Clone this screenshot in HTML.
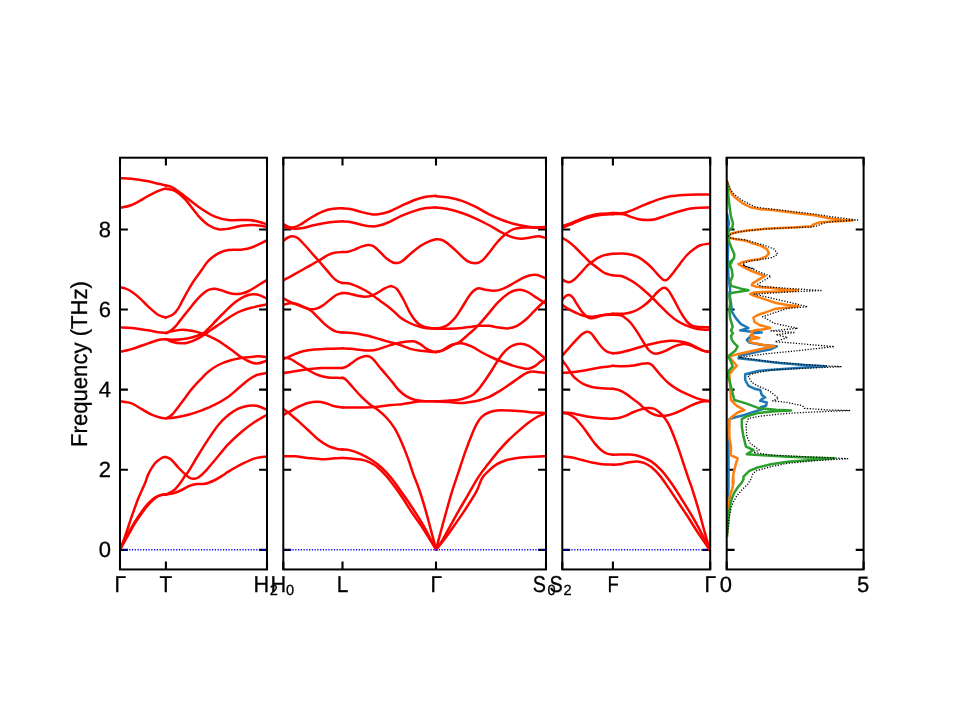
<!DOCTYPE html>
<html><head><meta charset="utf-8"><title>Phonon band structure</title>
<style>html,body{margin:0;padding:0;background:#fff;}svg{display:block;}text{font-family:"Liberation Sans",sans-serif;fill:#000;text-rendering:geometricPrecision;}.tx{filter:grayscale(1);}.tx text{stroke:#000;stroke-width:0.3px;}</style></head><body>
<svg width="960" height="720" viewBox="0 0 960 720">
<rect width="960" height="720" fill="#fff"/>
<defs>
<clipPath id="c1"><rect x="120.00" y="157.70" width="147.00" height="411.75"/></clipPath>
<clipPath id="c2"><rect x="283.30" y="157.70" width="262.70" height="411.75"/></clipPath>
<clipPath id="c3"><rect x="562.30" y="157.70" width="147.90" height="411.75"/></clipPath>
<clipPath id="c4"><rect x="726.70" y="157.70" width="136.90" height="411.75"/></clipPath>
</defs>
<path d="M120.00 549.85h7.90M267.00 549.85h-7.90M120.00 469.75h7.90M267.00 469.75h-7.90M120.00 389.65h7.90M267.00 389.65h-7.90M120.00 309.55h7.90M267.00 309.55h-7.90M120.00 229.45h7.90M267.00 229.45h-7.90M283.30 549.85h7.90M546.00 549.85h-7.90M283.30 469.75h7.90M546.00 469.75h-7.90M283.30 389.65h7.90M546.00 389.65h-7.90M283.30 309.55h7.90M546.00 309.55h-7.90M283.30 229.45h7.90M546.00 229.45h-7.90M562.30 549.85h7.90M710.20 549.85h-7.90M562.30 469.75h7.90M710.20 469.75h-7.90M562.30 389.65h7.90M710.20 389.65h-7.90M562.30 309.55h7.90M710.20 309.55h-7.90M562.30 229.45h7.90M710.20 229.45h-7.90M726.70 549.85h7.90M863.60 549.85h-7.90M726.70 469.75h7.90M863.60 469.75h-7.90M726.70 389.65h7.90M863.60 389.65h-7.90M726.70 309.55h7.90M863.60 309.55h-7.90M726.70 229.45h7.90M863.60 229.45h-7.90M120.00 157.70v7.90M120.00 569.45v-7.90M165.90 157.70v7.90M165.90 569.45v-7.90M267.00 157.70v7.90M267.00 569.45v-7.90M283.30 157.70v7.90M283.30 569.45v-7.90M342.50 157.70v7.90M342.50 569.45v-7.90M436.00 157.70v7.90M436.00 569.45v-7.90M546.00 157.70v7.90M546.00 569.45v-7.90M562.30 157.70v7.90M562.30 569.45v-7.90M612.90 157.70v7.90M612.90 569.45v-7.90M710.20 157.70v7.90M710.20 569.45v-7.90M726.70 157.70v7.90M726.70 569.45v-7.90M863.60 157.70v7.90M863.60 569.45v-7.90" stroke="#000" stroke-width="2.10" fill="none"/>
<g clip-path="url(#c1)" fill="none" stroke="#ff0000" stroke-width="2.50" stroke-linejoin="round" stroke-linecap="round"><path d="M119.33 178.33C121.39 178.39 126.83 178.17 131.67 178.67C136.50 179.17 143.89 180.47 148.33 181.33C152.78 182.19 155.39 183.14 158.33 183.83C161.28 184.53 164.72 185.22 166.00 185.50"/><path d="M119.33 208.00C121.39 207.50 126.83 207.03 131.67 205.00C136.50 202.97 144.17 198.06 148.33 195.83C152.50 193.61 154.31 192.75 156.67 191.67C159.03 190.58 160.94 189.83 162.50 189.33C164.06 188.83 165.42 188.78 166.00 188.67"/><path d="M119.33 287.50C120.28 287.64 122.94 287.64 125.00 288.33C127.06 289.03 129.17 290.00 131.67 291.67C134.17 293.33 137.22 295.83 140.00 298.33C142.78 300.83 145.28 303.89 148.33 306.67C151.39 309.44 155.39 313.19 158.33 315.00C161.28 316.81 164.72 317.08 166.00 317.50"/><path d="M119.33 327.50C121.39 327.58 126.83 327.53 131.67 328.00C136.50 328.47 143.89 329.64 148.33 330.33C152.78 331.03 155.39 331.72 158.33 332.17C161.28 332.61 164.72 332.86 166.00 333.00"/><path d="M119.33 352.00C121.39 351.53 126.83 350.61 131.67 349.17C136.50 347.72 143.89 344.86 148.33 343.33C152.78 341.81 155.39 340.69 158.33 340.00C161.28 339.31 164.72 339.31 166.00 339.17"/><path d="M119.33 401.17C121.39 401.53 127.94 402.00 131.67 403.33C135.39 404.67 138.33 407.28 141.67 409.17C145.00 411.06 148.61 413.28 151.67 414.67C154.72 416.06 157.61 416.89 160.00 417.50C162.39 418.11 165.00 418.19 166.00 418.33"/><path d="M120.00 549.67C120.83 547.50 123.06 542.17 125.00 536.67C126.94 531.17 129.44 523.06 131.67 516.67C133.89 510.28 136.11 503.89 138.33 498.33C140.56 492.78 143.33 487.36 145.00 483.33C146.67 479.31 146.67 477.50 148.33 474.17C150.00 470.83 152.78 466.03 155.00 463.33C157.22 460.64 159.83 459.06 161.67 458.00C163.50 456.94 165.28 457.17 166.00 457.00"/><path d="M120.00 549.67C121.39 546.94 125.83 538.00 128.33 533.33C130.83 528.67 132.78 525.28 135.00 521.67C137.22 518.06 139.44 514.72 141.67 511.67C143.89 508.61 146.11 505.69 148.33 503.33C150.56 500.97 152.92 498.89 155.00 497.50C157.08 496.11 159.00 495.50 160.83 495.00C162.67 494.50 165.14 494.58 166.00 494.50"/><path d="M120.00 549.67C121.53 546.94 126.50 538.00 129.17 533.33C131.83 528.67 133.72 525.28 136.00 521.67C138.28 518.06 140.61 514.67 142.83 511.67C145.06 508.67 147.19 505.97 149.33 503.67C151.47 501.36 153.69 499.25 155.67 497.83C157.64 496.42 159.44 495.72 161.17 495.17C162.89 494.61 165.19 494.61 166.00 494.50"/><path d="M166.00 185.50C166.94 185.75 169.06 185.64 171.67 187.00C174.28 188.36 177.22 190.39 181.67 193.67C186.11 196.94 192.78 202.83 198.33 206.67C203.89 210.50 210.00 214.44 215.00 216.67C220.00 218.89 222.78 219.44 228.33 220.00C233.89 220.56 243.33 219.72 248.33 220.00C253.33 220.28 255.14 220.92 258.33 221.67C261.53 222.42 265.97 224.03 267.50 224.50"/><path d="M166.00 188.67C167.50 189.03 171.83 189.08 175.00 190.83C178.17 192.58 181.11 195.00 185.00 199.17C188.89 203.33 194.44 211.53 198.33 215.83C202.22 220.14 205.00 222.78 208.33 225.00C211.67 227.22 215.00 228.56 218.33 229.17C221.67 229.78 224.44 229.22 228.33 228.67C232.22 228.11 237.50 226.44 241.67 225.83C245.83 225.22 249.03 224.83 253.33 225.00C257.64 225.17 265.14 226.53 267.50 226.83"/><path d="M166.00 317.50C167.22 316.94 171.28 315.69 173.33 314.17C175.39 312.64 176.39 311.39 178.33 308.33C180.28 305.28 182.50 300.28 185.00 295.83C187.50 291.39 190.56 285.97 193.33 281.67C196.11 277.36 199.17 273.47 201.67 270.00C204.17 266.53 205.56 263.61 208.33 260.83C211.11 258.06 215.00 255.14 218.33 253.33C221.67 251.53 224.44 250.61 228.33 250.00C232.22 249.39 237.78 250.08 241.67 249.67C245.56 249.25 247.36 249.11 251.67 247.50C255.97 245.89 264.86 241.25 267.50 240.00"/><path d="M166.00 333.00C166.67 332.71 168.50 332.27 170.00 331.25C171.50 330.23 173.33 328.67 175.00 326.90C176.67 325.12 178.33 322.68 180.00 320.60C181.67 318.52 183.33 316.48 185.00 314.40C186.67 312.32 188.33 310.18 190.00 308.10C191.67 306.02 193.33 303.85 195.00 301.90C196.67 299.95 198.33 298.07 200.00 296.40C201.67 294.73 203.33 293.07 205.00 291.90C206.67 290.73 208.33 289.92 210.00 289.40C211.67 288.88 213.05 288.63 215.00 288.80C216.95 288.97 219.48 289.75 221.70 290.40C223.92 291.05 226.08 292.10 228.30 292.70C230.52 293.30 232.77 293.87 235.00 294.00C237.23 294.13 239.48 293.96 241.70 293.50C243.92 293.04 245.80 292.46 248.30 291.25C250.80 290.04 253.50 288.19 256.70 286.25C259.90 284.31 265.70 280.71 267.50 279.60"/><path d="M166.00 333.00C166.94 332.72 169.06 331.89 171.67 331.33C174.28 330.78 178.33 329.75 181.67 329.67C185.00 329.58 188.33 330.22 191.67 330.83C195.00 331.44 198.89 332.50 201.67 333.33C204.44 334.17 205.56 334.58 208.33 335.83C211.11 337.08 214.44 338.47 218.33 340.83C222.22 343.19 227.78 347.22 231.67 350.00C235.56 352.78 238.33 355.42 241.67 357.50C245.00 359.58 248.89 361.53 251.67 362.50C254.44 363.47 255.69 363.69 258.33 363.33C260.97 362.97 265.97 360.83 267.50 360.33"/><path d="M166.00 339.17C166.94 339.25 169.06 339.67 171.67 339.67C174.28 339.67 178.33 339.53 181.67 339.17C185.00 338.81 188.33 338.33 191.67 337.50C195.00 336.67 199.03 335.50 201.67 334.17C204.31 332.83 204.99 331.86 207.50 329.50C210.01 327.14 213.78 322.97 216.70 320.00C219.62 317.03 222.23 314.41 225.00 311.70C227.77 308.99 230.52 306.05 233.30 303.75C236.08 301.45 239.20 299.36 241.70 297.90C244.20 296.44 246.22 295.60 248.30 295.00C250.38 294.40 252.25 294.23 254.20 294.30C256.15 294.37 257.78 294.62 260.00 295.40C262.22 296.18 266.25 298.40 267.50 299.00"/><path d="M166.00 339.17C166.94 339.58 169.06 340.97 171.67 341.67C174.28 342.36 178.89 343.19 181.67 343.33C184.44 343.47 185.56 343.33 188.33 342.50C191.11 341.67 195.56 339.72 198.33 338.33C201.11 336.94 202.92 335.56 205.00 334.17C207.08 332.78 208.17 331.81 210.80 330.00C213.43 328.19 217.73 325.38 220.80 323.30C223.87 321.22 226.42 319.30 229.20 317.50C231.98 315.70 234.73 313.88 237.50 312.50C240.27 311.12 243.02 310.10 245.80 309.20C248.58 308.30 251.83 307.67 254.20 307.10C256.57 306.53 257.78 306.25 260.00 305.80C262.22 305.35 266.25 304.63 267.50 304.40"/><path d="M166.00 418.33C166.94 417.78 169.06 417.64 171.67 415.00C174.28 412.36 178.33 406.81 181.67 402.50C185.00 398.19 188.33 393.19 191.67 389.17C195.00 385.14 198.89 381.25 201.67 378.33C204.44 375.42 205.56 373.89 208.33 371.67C211.11 369.44 214.44 366.94 218.33 365.00C222.22 363.06 227.22 361.25 231.67 360.00C236.11 358.75 240.56 358.11 245.00 357.50C249.44 356.89 254.58 356.39 258.33 356.33C262.08 356.28 265.97 357.03 267.50 357.17"/><path d="M166.00 418.33C167.50 418.19 171.28 418.11 175.00 417.50C178.72 416.89 183.89 415.86 188.33 414.67C192.78 413.47 197.22 412.00 201.67 410.33C206.11 408.67 210.56 406.94 215.00 404.67C219.44 402.39 224.44 399.39 228.33 396.67C232.22 393.94 235.00 391.11 238.33 388.33C241.67 385.56 245.28 382.22 248.33 380.00C251.39 377.78 253.47 376.19 256.67 375.00C259.86 373.81 265.69 373.19 267.50 372.83"/><path d="M166.00 457.00C166.94 457.50 169.61 458.25 171.67 460.00C173.72 461.75 176.11 465.14 178.33 467.50C180.56 469.86 183.06 472.42 185.00 474.17C186.94 475.92 188.47 477.22 190.00 478.00C191.53 478.78 192.78 478.92 194.17 478.83C195.56 478.75 196.53 478.69 198.33 477.50C200.14 476.31 202.22 474.58 205.00 471.67C207.78 468.75 211.11 464.58 215.00 460.00C218.89 455.42 223.89 448.89 228.33 444.17C232.78 439.44 237.22 435.42 241.67 431.67C246.11 427.92 250.69 424.53 255.00 421.67C259.31 418.81 265.42 415.69 267.50 414.50"/><path d="M166.00 494.50C167.22 493.89 171.00 492.69 173.33 490.83C175.67 488.97 178.06 485.83 180.00 483.33C181.94 480.83 183.61 477.78 185.00 475.83C186.39 473.89 186.11 475.14 188.33 471.67C190.56 468.19 195.00 460.42 198.33 455.00C201.67 449.58 205.00 444.17 208.33 439.17C211.67 434.17 215.00 429.03 218.33 425.00C221.67 420.97 225.00 417.72 228.33 415.00C231.67 412.28 235.00 410.19 238.33 408.67C241.67 407.14 245.28 406.31 248.33 405.83C251.39 405.36 253.47 405.14 256.67 405.83C259.86 406.53 265.69 409.31 267.50 410.00"/><path d="M166.00 494.50C167.22 494.31 170.72 494.08 173.33 493.33C175.94 492.58 179.17 491.17 181.67 490.00C184.17 488.83 186.11 487.31 188.33 486.33C190.56 485.36 192.22 484.58 195.00 484.17C197.78 483.75 201.67 484.53 205.00 483.83C208.33 483.14 211.94 481.47 215.00 480.00C218.06 478.53 221.11 476.39 223.33 475.00C225.56 473.61 225.28 473.47 228.33 471.67C231.39 469.86 237.22 466.39 241.67 464.17C246.11 461.94 250.69 459.61 255.00 458.33C259.31 457.06 265.42 456.81 267.50 456.50"/></g>
<g clip-path="url(#c2)" fill="none" stroke="#ff0000" stroke-width="2.50" stroke-linejoin="round" stroke-linecap="round"><path d="M282.67 223.67C283.56 224.17 286.28 226.03 288.00 226.67C289.72 227.31 291.06 227.78 293.00 227.50C294.94 227.22 296.61 226.67 299.67 225.00C302.72 223.33 307.44 219.78 311.33 217.50C315.22 215.22 319.39 212.81 323.00 211.33C326.61 209.86 329.75 209.17 333.00 208.67C336.25 208.17 340.92 208.39 342.50 208.33"/><path d="M282.67 226.33C283.56 226.61 286.00 227.61 288.00 228.00C290.00 228.39 292.17 228.67 294.67 228.67C297.17 228.67 299.67 228.61 303.00 228.00C306.33 227.39 310.50 225.92 314.67 225.00C318.83 224.08 323.36 223.11 328.00 222.50C332.64 221.89 340.08 221.53 342.50 221.33"/><path d="M282.67 241.33C283.56 240.69 286.28 238.33 288.00 237.50C289.72 236.67 291.33 236.19 293.00 236.33C294.67 236.47 296.06 236.89 298.00 238.33C299.94 239.78 302.44 242.64 304.67 245.00C306.89 247.36 309.11 250.00 311.33 252.50C313.56 255.00 315.22 256.81 318.00 260.00C320.78 263.19 325.22 268.47 328.00 271.67C330.78 274.86 332.72 277.42 334.67 279.17C336.61 280.92 338.36 281.53 339.67 282.17C340.97 282.81 342.03 282.86 342.50 283.00"/><path d="M282.67 280.67C284.67 279.58 290.44 276.50 294.67 274.17C298.89 271.83 303.97 268.94 308.00 266.67C312.03 264.39 315.50 262.44 318.83 260.50C322.17 258.56 325.36 256.28 328.00 255.00C330.64 253.72 332.25 253.33 334.67 252.83C337.08 252.33 341.19 252.14 342.50 252.00"/><path d="M282.67 298.00C284.11 298.75 288.50 301.19 291.33 302.50C294.17 303.81 296.61 304.64 299.67 305.83C302.72 307.03 306.89 308.00 309.67 309.67C312.44 311.33 313.83 313.42 316.33 315.83C318.83 318.25 322.17 321.94 324.67 324.17C327.17 326.39 329.39 327.92 331.33 329.17C333.28 330.42 334.47 331.11 336.33 331.67C338.19 332.22 341.47 332.36 342.50 332.50"/><path d="M282.67 305.00C283.83 304.72 287.39 303.56 289.67 303.33C291.94 303.11 294.11 303.11 296.33 303.67C298.56 304.22 300.78 305.75 303.00 306.67C305.22 307.58 307.44 308.83 309.67 309.17C311.89 309.50 314.11 309.31 316.33 308.67C318.56 308.03 320.78 306.78 323.00 305.33C325.22 303.89 327.44 301.72 329.67 300.00C331.89 298.28 334.19 296.17 336.33 295.00C338.47 293.83 341.47 293.33 342.50 293.00"/><path d="M282.67 359.17C283.56 358.83 286.00 358.00 288.00 357.17C290.00 356.33 292.17 355.14 294.67 354.17C297.17 353.19 299.67 352.11 303.00 351.33C306.33 350.56 310.50 349.94 314.67 349.50C318.83 349.06 323.36 348.86 328.00 348.67C332.64 348.47 340.08 348.39 342.50 348.33"/><path d="M282.67 357.67C283.83 357.83 287.39 357.86 289.67 358.67C291.94 359.47 294.11 361.17 296.33 362.50C298.56 363.83 300.78 365.28 303.00 366.67C305.22 368.06 307.17 369.44 309.67 370.83C312.17 372.22 314.94 373.89 318.00 375.00C321.06 376.11 324.94 377.03 328.00 377.50C331.06 377.97 333.92 377.75 336.33 377.83C338.75 377.92 341.47 377.97 342.50 378.00"/><path d="M282.67 373.17C284.67 372.86 290.44 372.00 294.67 371.33C298.89 370.67 303.56 369.72 308.00 369.17C312.44 368.61 316.89 368.19 321.33 368.00C325.78 367.81 331.14 368.00 334.67 368.00C338.19 368.00 341.19 368.00 342.50 368.00"/><path d="M282.67 415.00C283.83 414.44 287.11 413.00 289.67 411.67C292.22 410.33 294.94 408.44 298.00 407.00C301.06 405.56 304.67 403.89 308.00 403.00C311.33 402.11 314.94 401.61 318.00 401.67C321.06 401.72 323.56 402.56 326.33 403.33C329.11 404.11 331.97 405.64 334.67 406.33C337.36 407.03 341.19 407.31 342.50 407.50"/><path d="M282.67 408.67C283.83 409.50 287.11 411.64 289.67 413.67C292.22 415.69 294.94 418.11 298.00 420.83C301.06 423.56 304.67 426.94 308.00 430.00C311.33 433.06 314.67 436.53 318.00 439.17C321.33 441.81 324.94 444.25 328.00 445.83C331.06 447.42 333.92 448.06 336.33 448.67C338.75 449.28 341.47 449.36 342.50 449.50"/><path d="M282.67 456.33C284.67 456.33 290.44 456.06 294.67 456.33C298.89 456.61 303.56 457.53 308.00 458.00C312.44 458.47 316.89 459.11 321.33 459.17C325.78 459.22 331.14 458.53 334.67 458.33C338.19 458.14 341.19 458.06 342.50 458.00"/><path d="M342.50 208.33C343.97 208.47 348.19 208.56 351.33 209.17C354.47 209.78 358.00 211.17 361.33 212.00C364.67 212.83 368.56 213.81 371.33 214.17C374.11 214.53 375.22 214.53 378.00 214.17C380.78 213.81 384.11 213.39 388.00 212.00C391.89 210.61 396.89 207.83 401.33 205.83C405.78 203.83 410.78 201.47 414.67 200.00C418.56 198.53 421.11 197.69 424.67 197.00C428.22 196.31 434.11 196.03 436.00 195.83"/><path d="M342.50 221.33C343.97 221.47 348.19 221.61 351.33 222.17C354.47 222.72 358.00 223.97 361.33 224.67C364.67 225.36 368.56 226.14 371.33 226.33C374.11 226.53 375.22 226.47 378.00 225.83C380.78 225.19 384.11 224.17 388.00 222.50C391.89 220.83 396.89 217.78 401.33 215.83C405.78 213.89 410.78 212.08 414.67 210.83C418.56 209.58 421.11 208.89 424.67 208.33C428.22 207.78 434.11 207.64 436.00 207.50"/><path d="M342.50 283.00C343.42 283.06 345.97 282.94 348.00 283.33C350.03 283.72 352.44 284.50 354.67 285.33C356.89 286.17 359.11 287.22 361.33 288.33C363.56 289.44 365.78 290.61 368.00 292.00C370.22 293.39 372.44 295.06 374.67 296.67C376.89 298.28 378.56 299.58 381.33 301.67C384.11 303.75 388.17 306.53 391.33 309.17C394.50 311.81 397.44 315.28 400.33 317.50C403.22 319.72 405.89 321.11 408.67 322.50C411.44 323.89 414.22 324.92 417.00 325.83C419.78 326.75 422.17 327.53 425.33 328.00C428.50 328.47 434.22 328.56 436.00 328.67"/><path d="M342.50 252.00C343.42 251.94 345.97 252.06 348.00 251.67C350.03 251.28 352.44 250.50 354.67 249.67C356.89 248.83 359.11 247.44 361.33 246.67C363.56 245.89 365.92 245.06 368.00 245.00C370.08 244.94 371.89 245.22 373.83 246.33C375.78 247.44 377.58 249.67 379.67 251.67C381.75 253.67 384.11 256.53 386.33 258.33C388.56 260.14 391.22 261.72 393.00 262.50C394.78 263.28 395.50 263.19 397.00 263.00C398.50 262.81 399.50 263.08 402.00 261.33C404.50 259.58 408.67 255.22 412.00 252.50C415.33 249.78 418.94 246.94 422.00 245.00C425.06 243.06 428.00 241.81 430.33 240.83C432.67 239.86 435.06 239.44 436.00 239.17"/><path d="M342.50 332.50C343.69 332.53 347.08 332.47 349.67 332.67C352.25 332.86 354.94 333.14 358.00 333.67C361.06 334.19 364.67 335.00 368.00 335.83C371.33 336.67 374.67 337.69 378.00 338.67C381.33 339.64 385.67 341.00 388.00 341.67C390.33 342.33 389.94 342.08 392.00 342.67C394.06 343.25 397.28 344.14 400.33 345.17C403.39 346.19 407.00 347.89 410.33 348.83C413.67 349.78 417.00 350.36 420.33 350.83C423.67 351.31 427.72 351.47 430.33 351.67C432.94 351.86 435.06 351.94 436.00 352.00"/><path d="M342.50 293.00C343.69 293.11 347.08 293.19 349.67 293.67C352.25 294.14 355.50 295.33 358.00 295.83C360.50 296.33 362.44 296.67 364.67 296.67C366.89 296.67 369.11 296.53 371.33 295.83C373.56 295.14 375.78 293.75 378.00 292.50C380.22 291.25 382.72 289.36 384.67 288.33C386.61 287.31 388.44 286.67 389.67 286.33C390.89 286.00 390.78 285.86 392.00 286.33C393.22 286.81 395.06 286.89 397.00 289.17C398.94 291.44 401.44 295.97 403.67 300.00C405.89 304.03 408.11 309.58 410.33 313.33C412.56 317.08 414.78 320.28 417.00 322.50C419.22 324.72 421.44 325.75 423.67 326.67C425.89 327.58 428.28 327.72 430.33 328.00C432.39 328.28 435.06 328.28 436.00 328.33"/><path d="M342.50 348.33C343.97 348.42 348.19 348.56 351.33 348.83C354.47 349.11 358.28 349.72 361.33 350.00C364.39 350.28 366.89 350.64 369.67 350.50C372.44 350.36 374.94 349.94 378.00 349.17C381.06 348.39 385.67 346.58 388.00 345.83C390.33 345.08 390.22 345.14 392.00 344.67C393.78 344.19 396.17 343.53 398.67 343.00C401.17 342.47 404.50 341.78 407.00 341.50C409.50 341.22 411.44 340.89 413.67 341.33C415.89 341.78 418.11 342.86 420.33 344.17C422.56 345.47 424.78 347.92 427.00 349.17C429.22 350.42 432.17 351.19 433.67 351.67C435.17 352.14 435.61 351.94 436.00 352.00"/><path d="M342.50 377.67C343.14 378.06 344.58 378.36 346.33 380.00C348.08 381.64 350.50 384.72 353.00 387.50C355.50 390.28 358.56 393.89 361.33 396.67C364.11 399.44 366.89 401.94 369.67 404.17C372.44 406.39 375.22 407.78 378.00 410.00C380.78 412.22 383.56 414.44 386.33 417.50C389.11 420.56 392.17 424.31 394.67 428.33C397.17 432.36 399.11 436.67 401.33 441.67C403.56 446.67 406.06 453.06 408.00 458.33C409.94 463.61 411.11 468.06 413.00 473.33C414.89 478.61 417.17 483.61 419.33 490.00C421.50 496.39 424.00 504.72 426.00 511.67C428.00 518.61 429.64 525.33 431.33 531.67C433.03 538.00 435.36 546.67 436.17 549.67"/><path d="M342.50 368.00C343.14 367.78 344.86 367.44 346.33 366.67C347.81 365.89 349.39 364.67 351.33 363.33C353.28 362.00 355.78 359.86 358.00 358.67C360.22 357.47 362.72 356.50 364.67 356.17C366.61 355.83 368.00 355.89 369.67 356.67C371.33 357.44 372.72 358.75 374.67 360.83C376.61 362.92 378.44 365.69 381.33 369.17C384.22 372.64 389.11 378.19 392.00 381.67C394.89 385.14 396.17 387.50 398.67 390.00C401.17 392.50 404.22 395.00 407.00 396.67C409.78 398.33 412.28 399.25 415.33 400.00C418.39 400.75 421.89 400.94 425.33 401.17C428.78 401.39 434.22 401.31 436.00 401.33"/><path d="M342.50 407.50C343.97 407.50 347.64 407.50 351.33 407.50C355.03 407.50 360.22 407.64 364.67 407.50C369.11 407.36 373.56 407.08 378.00 406.67C382.44 406.25 387.33 405.42 391.33 405.00C395.33 404.58 398.28 404.64 402.00 404.17C405.72 403.69 409.78 402.64 413.67 402.17C417.56 401.69 421.61 401.47 425.33 401.33C429.06 401.19 434.22 401.33 436.00 401.33"/><path d="M342.50 449.50C343.82 449.65 347.35 449.63 350.40 450.40C353.45 451.17 357.32 452.53 360.80 454.10C364.28 455.67 367.77 457.55 371.25 459.80C374.73 462.05 378.22 464.40 381.70 467.60C385.18 470.80 388.63 474.68 392.10 479.00C395.57 483.32 399.27 488.92 402.50 493.50C405.73 498.08 407.97 501.08 411.50 506.50C415.03 511.92 419.58 518.78 423.70 526.00C427.82 533.22 434.12 545.83 436.20 549.80"/><path d="M342.50 458.00C343.82 458.08 347.35 458.23 350.40 458.50C353.45 458.77 357.67 458.98 360.80 459.60C363.93 460.22 366.42 460.93 369.20 462.20C371.98 463.47 374.73 464.98 377.50 467.20C380.27 469.42 383.02 472.37 385.80 475.50C388.58 478.63 391.42 482.28 394.20 486.00C396.98 489.72 399.55 493.38 402.50 497.80C405.45 502.22 408.75 507.80 411.90 512.50C415.05 517.20 417.35 519.78 421.40 526.00C425.45 532.22 433.73 545.83 436.20 549.80"/><path d="M436.00 196.33C438.11 196.53 444.33 196.75 448.67 197.50C453.00 198.25 457.56 199.31 462.00 200.83C466.44 202.36 470.89 204.44 475.33 206.67C479.78 208.89 484.22 211.94 488.67 214.17C493.11 216.39 497.56 218.33 502.00 220.00C506.44 221.67 510.89 223.06 515.33 224.17C519.78 225.28 524.78 226.08 528.67 226.67C532.56 227.25 535.61 227.53 538.67 227.67C541.72 227.81 545.61 227.53 547.00 227.50"/><path d="M436.00 207.50C438.11 207.78 444.33 208.25 448.67 209.17C453.00 210.08 457.56 211.47 462.00 213.00C466.44 214.53 470.89 216.33 475.33 218.33C479.78 220.33 484.78 222.92 488.67 225.00C492.56 227.08 495.33 229.03 498.67 230.83C502.00 232.64 505.89 234.64 508.67 235.83C511.44 237.03 513.11 237.53 515.33 238.00C517.56 238.47 519.50 238.75 522.00 238.67C524.50 238.58 527.56 237.89 530.33 237.50C533.11 237.11 535.89 236.19 538.67 236.33C541.44 236.47 545.61 238.00 547.00 238.33"/><path d="M436.00 239.17C437.00 239.31 439.89 239.17 442.00 240.00C444.11 240.83 445.89 241.94 448.67 244.17C451.44 246.39 455.61 250.56 458.67 253.33C461.72 256.11 464.22 259.17 467.00 260.83C469.78 262.50 472.83 263.33 475.33 263.33C477.83 263.33 479.78 262.50 482.00 260.83C484.22 259.17 486.17 256.39 488.67 253.33C491.17 250.28 494.22 245.69 497.00 242.50C499.78 239.31 502.56 236.39 505.33 234.17C508.11 231.94 510.61 230.28 513.67 229.17C516.72 228.06 520.06 227.78 523.67 227.50C527.28 227.22 531.44 227.58 535.33 227.50C539.22 227.42 545.06 227.08 547.00 227.00"/><path d="M436.00 328.33C437.00 328.19 439.89 328.19 442.00 327.50C444.11 326.81 446.44 325.83 448.67 324.17C450.89 322.50 453.11 320.28 455.33 317.50C457.56 314.72 459.78 310.97 462.00 307.50C464.22 304.03 466.72 299.44 468.67 296.67C470.61 293.89 472.00 292.22 473.67 290.83C475.33 289.44 476.72 288.53 478.67 288.33C480.61 288.14 482.83 289.25 485.33 289.67C487.83 290.08 490.89 290.92 493.67 290.83C496.44 290.75 498.94 290.28 502.00 289.17C505.06 288.06 508.67 285.97 512.00 284.17C515.33 282.36 518.94 279.81 522.00 278.33C525.06 276.86 527.83 275.89 530.33 275.33C532.83 274.78 534.22 274.42 537.00 275.00C539.78 275.58 545.33 278.19 547.00 278.83"/><path d="M436.00 328.67C438.11 328.67 444.33 328.78 448.67 328.67C453.00 328.56 458.11 328.33 462.00 328.00C465.89 327.67 469.22 327.03 472.00 326.67C474.78 326.31 475.89 325.97 478.67 325.83C481.44 325.69 485.33 325.56 488.67 325.83C492.00 326.11 495.33 327.08 498.67 327.50C502.00 327.92 505.61 328.61 508.67 328.33C511.72 328.06 514.22 327.22 517.00 325.83C519.78 324.44 522.56 322.36 525.33 320.00C528.11 317.64 531.17 314.17 533.67 311.67C536.17 309.17 538.11 307.08 540.33 305.00C542.56 302.92 545.89 300.14 547.00 299.17"/><path d="M436.00 352.00C437.00 351.72 439.61 351.44 442.00 350.33C444.39 349.22 447.56 346.64 450.33 345.33C453.11 344.03 455.61 344.36 458.67 342.50C461.72 340.64 465.33 337.08 468.67 334.17C472.00 331.25 475.33 328.47 478.67 325.00C482.00 321.53 485.33 317.22 488.67 313.33C492.00 309.44 495.33 305.00 498.67 301.67C502.00 298.33 505.89 295.22 508.67 293.33C511.44 291.44 513.11 290.89 515.33 290.33C517.56 289.78 519.78 289.64 522.00 290.00C524.22 290.36 526.17 291.17 528.67 292.50C531.17 293.83 533.94 296.03 537.00 298.00C540.06 299.97 545.33 303.28 547.00 304.33"/><path d="M436.00 352.00C437.00 351.81 439.89 351.58 442.00 350.83C444.11 350.08 446.44 348.67 448.67 347.50C450.89 346.33 453.11 344.53 455.33 343.83C457.56 343.14 459.22 342.86 462.00 343.33C464.78 343.81 468.67 345.14 472.00 346.67C475.33 348.19 478.67 350.69 482.00 352.50C485.33 354.31 488.67 355.97 492.00 357.50C495.33 359.03 498.67 360.36 502.00 361.67C505.33 362.97 508.67 364.28 512.00 365.33C515.33 366.39 519.22 367.44 522.00 368.00C524.78 368.56 526.44 369.03 528.67 368.67C530.89 368.31 533.39 367.00 535.33 365.83C537.28 364.67 538.39 363.08 540.33 361.67C542.28 360.25 545.89 358.06 547.00 357.33"/><path d="M436.00 401.33C437.83 401.25 443.22 401.11 447.00 400.83C450.78 400.56 455.33 400.22 458.67 399.67C462.00 399.11 464.50 398.42 467.00 397.50C469.50 396.58 471.72 395.56 473.67 394.17C475.61 392.78 476.72 391.53 478.67 389.17C480.61 386.81 483.11 383.19 485.33 380.00C487.56 376.81 489.78 373.47 492.00 370.00C494.22 366.53 496.44 362.36 498.67 359.17C500.89 355.97 503.11 353.06 505.33 350.83C507.56 348.61 509.50 347.00 512.00 345.83C514.50 344.67 517.56 343.83 520.33 343.83C523.11 343.83 525.89 344.53 528.67 345.83C531.44 347.14 533.94 349.31 537.00 351.67C540.06 354.03 545.33 358.61 547.00 360.00"/><path d="M436.00 401.33C438.11 401.44 444.89 401.72 448.67 402.00C452.44 402.28 455.61 402.92 458.67 403.00C461.72 403.08 463.67 402.92 467.00 402.50C470.33 402.08 475.06 401.39 478.67 400.50C482.28 399.61 485.33 398.64 488.67 397.17C492.00 395.69 495.33 393.69 498.67 391.67C502.00 389.64 505.33 387.28 508.67 385.00C512.00 382.72 515.89 379.89 518.67 378.00C521.44 376.11 523.39 374.72 525.33 373.67C527.28 372.61 528.39 371.94 530.33 371.67C532.28 371.39 534.22 371.75 537.00 372.00C539.78 372.25 545.33 372.97 547.00 373.17"/><path d="M436.00 549.67C436.72 546.94 438.78 539.11 440.33 533.33C441.89 527.56 443.39 521.94 445.33 515.00C447.28 508.06 449.78 498.89 452.00 491.67C454.22 484.44 456.44 478.33 458.67 471.67C460.89 465.00 463.11 457.92 465.33 451.67C467.56 445.42 470.06 438.89 472.00 434.17C473.94 429.44 475.33 426.25 477.00 423.33C478.67 420.42 480.06 418.47 482.00 416.67C483.94 414.86 486.17 413.53 488.67 412.50C491.17 411.47 493.67 410.83 497.00 410.50C500.33 410.17 504.50 410.36 508.67 410.50C512.83 410.64 517.56 411.00 522.00 411.33C526.44 411.67 531.17 412.22 535.33 412.50C539.50 412.78 545.06 412.92 547.00 413.00"/><path d="M436.00 549.67C437.00 548.19 439.61 544.81 442.00 540.83C444.39 536.86 447.56 530.83 450.33 525.83C453.11 520.83 455.89 515.69 458.67 510.83C461.44 505.97 463.67 502.36 467.00 496.67C470.33 490.97 475.06 482.22 478.67 476.67C482.28 471.11 485.33 467.64 488.67 463.33C492.00 459.03 495.33 454.72 498.67 450.83C502.00 446.94 505.33 443.33 508.67 440.00C512.00 436.67 515.33 433.75 518.67 430.83C522.00 427.92 525.61 424.81 528.67 422.50C531.72 420.19 533.94 418.67 537.00 417.00C540.06 415.33 545.33 413.25 547.00 412.50"/><path d="M436.00 549.67C437.28 548.11 441.00 543.81 443.67 540.33C446.33 536.86 448.58 533.69 452.00 528.83C455.42 523.97 460.11 517.36 464.17 511.17C468.22 504.97 473.36 497.14 476.33 491.67C479.31 486.19 479.94 481.81 482.00 478.33C484.06 474.86 486.17 473.19 488.67 470.83C491.17 468.47 494.22 465.89 497.00 464.17C499.78 462.44 502.28 461.47 505.33 460.50C508.39 459.53 511.44 458.92 515.33 458.33C519.22 457.75 523.39 457.36 528.67 457.00C533.94 456.64 543.94 456.31 547.00 456.17"/></g>
<g clip-path="url(#c3)" fill="none" stroke="#ff0000" stroke-width="2.50" stroke-linejoin="round" stroke-linecap="round"><path d="M561.67 226.33C563.11 225.83 567.22 224.53 570.33 223.33C573.44 222.14 577.00 220.42 580.33 219.17C583.67 217.92 587.00 216.72 590.33 215.83C593.67 214.94 596.58 214.31 600.33 213.83C604.08 213.36 610.75 213.14 612.83 213.00"/><path d="M561.67 228.00C563.11 227.42 567.22 225.78 570.33 224.50C573.44 223.22 577.00 221.58 580.33 220.33C583.67 219.08 587.00 217.89 590.33 217.00C593.67 216.11 596.58 215.47 600.33 215.00C604.08 214.53 610.75 214.31 612.83 214.17"/><path d="M561.67 237.67C562.83 238.33 566.39 240.03 568.67 241.67C570.94 243.31 572.83 245.14 575.33 247.50C577.83 249.86 581.17 253.33 583.67 255.83C586.17 258.33 588.11 260.56 590.33 262.50C592.56 264.44 594.78 265.83 597.00 267.50C599.22 269.17 601.72 271.36 603.67 272.50C605.61 273.64 607.14 273.86 608.67 274.33C610.19 274.81 612.14 275.17 612.83 275.33"/><path d="M561.67 279.00C562.42 279.44 564.86 281.14 566.17 281.67C567.47 282.19 568.25 282.44 569.50 282.17C570.75 281.89 571.86 281.47 573.67 280.00C575.47 278.53 578.11 275.69 580.33 273.33C582.56 270.97 585.33 267.50 587.00 265.83C588.67 264.17 588.67 264.58 590.33 263.33C592.00 262.08 594.78 259.67 597.00 258.33C599.22 257.00 601.03 256.08 603.67 255.33C606.31 254.58 611.31 254.08 612.83 253.83"/><path d="M561.67 300.50C562.42 299.72 564.86 296.75 566.17 295.83C567.47 294.92 568.39 294.72 569.50 295.00C570.61 295.28 571.58 295.97 572.83 297.50C574.08 299.03 575.47 301.81 577.00 304.17C578.53 306.53 580.33 309.58 582.00 311.67C583.67 313.75 585.61 315.56 587.00 316.67C588.39 317.78 588.94 318.19 590.33 318.33C591.72 318.47 593.11 318.06 595.33 317.50C597.56 316.94 600.75 315.64 603.67 315.00C606.58 314.36 611.31 313.89 612.83 313.67"/><path d="M561.67 304.33C562.83 305.14 566.39 307.81 568.67 309.17C570.94 310.53 572.83 311.39 575.33 312.50C577.83 313.61 580.89 315.14 583.67 315.83C586.44 316.53 588.94 316.75 592.00 316.67C595.06 316.58 598.53 315.67 602.00 315.33C605.47 315.00 611.03 314.78 612.83 314.67"/><path d="M561.67 356.33C562.83 355.00 566.39 350.92 568.67 348.33C570.94 345.75 573.11 343.19 575.33 340.83C577.56 338.47 580.06 335.69 582.00 334.17C583.94 332.64 585.47 331.81 587.00 331.67C588.53 331.53 589.64 331.94 591.17 333.33C592.69 334.72 594.36 337.64 596.17 340.00C597.97 342.36 600.19 345.56 602.00 347.50C603.81 349.44 605.19 350.69 607.00 351.67C608.81 352.64 611.86 353.06 612.83 353.33"/><path d="M561.67 373.00C563.67 372.83 569.44 372.50 573.67 372.00C577.89 371.50 582.56 370.75 587.00 370.00C591.44 369.25 596.03 368.19 600.33 367.50C604.64 366.81 610.75 366.11 612.83 365.83"/><path d="M561.67 359.50C562.56 360.69 565.14 363.94 567.00 366.67C568.86 369.39 571.03 373.56 572.83 375.83C574.64 378.11 576.03 378.94 577.83 380.33C579.64 381.72 581.31 383.06 583.67 384.17C586.03 385.28 588.94 386.31 592.00 387.00C595.06 387.69 598.53 388.03 602.00 388.33C605.47 388.64 611.03 388.75 612.83 388.83"/><path d="M561.67 412.50C563.11 412.58 567.50 412.64 570.33 413.00C573.17 413.36 575.33 414.00 578.67 414.67C582.00 415.33 586.44 416.39 590.33 417.00C594.22 417.61 598.25 418.06 602.00 418.33C605.75 418.61 611.03 418.61 612.83 418.67"/><path d="M561.67 412.67C562.83 412.92 566.39 413.22 568.67 414.17C570.94 415.11 573.11 416.39 575.33 418.33C577.56 420.28 579.78 423.06 582.00 425.83C584.22 428.61 586.44 431.94 588.67 435.00C590.89 438.06 593.11 441.53 595.33 444.17C597.56 446.81 600.06 449.25 602.00 450.83C603.94 452.42 605.19 453.03 607.00 453.67C608.81 454.31 611.86 454.50 612.83 454.67"/><path d="M561.67 456.33C563.39 456.53 568.61 456.89 572.00 457.50C575.39 458.11 578.67 459.17 582.00 460.00C585.33 460.83 588.67 461.81 592.00 462.50C595.33 463.19 598.53 463.81 602.00 464.17C605.47 464.53 611.03 464.58 612.83 464.67"/><path d="M612.83 213.00C614.64 213.00 620.75 213.36 623.67 213.00C626.58 212.64 627.56 211.89 630.33 210.83C633.11 209.78 637.00 208.06 640.33 206.67C643.67 205.28 647.00 203.81 650.33 202.50C653.67 201.19 657.00 199.86 660.33 198.83C663.67 197.81 666.44 196.97 670.33 196.33C674.22 195.69 679.22 195.31 683.67 195.00C688.11 194.69 692.42 194.58 697.00 194.50C701.58 194.42 708.81 194.50 711.17 194.50"/><path d="M612.83 214.17C614.64 214.17 620.75 213.75 623.67 214.17C626.58 214.58 627.83 215.83 630.33 216.67C632.83 217.50 635.89 218.61 638.67 219.17C641.44 219.72 644.22 220.00 647.00 220.00C649.78 220.00 652.28 219.86 655.33 219.17C658.39 218.47 662.00 216.94 665.33 215.83C668.67 214.72 672.00 213.53 675.33 212.50C678.67 211.47 682.00 210.42 685.33 209.67C688.67 208.92 691.03 208.36 695.33 208.00C699.64 207.64 708.53 207.58 711.17 207.50"/><path d="M612.83 275.33C614.08 275.42 617.97 275.33 620.33 275.83C622.69 276.33 624.50 277.08 627.00 278.33C629.50 279.58 632.56 281.39 635.33 283.33C638.11 285.28 640.89 287.64 643.67 290.00C646.44 292.36 649.22 294.86 652.00 297.50C654.78 300.14 657.56 303.06 660.33 305.83C663.11 308.61 665.89 311.67 668.67 314.17C671.44 316.67 674.22 319.00 677.00 320.83C679.78 322.67 682.56 323.97 685.33 325.17C688.11 326.36 690.89 327.28 693.67 328.00C696.44 328.72 699.08 329.19 702.00 329.50C704.92 329.81 709.64 329.78 711.17 329.83"/><path d="M612.85 253.80C614.46 253.77 619.23 253.40 622.50 253.60C625.77 253.80 629.58 254.25 632.50 255.00C635.42 255.75 637.50 256.64 640.00 258.10C642.50 259.56 645.21 261.77 647.50 263.75C649.79 265.73 651.67 267.81 653.75 270.00C655.83 272.19 658.44 275.27 660.00 276.90C661.56 278.52 662.27 279.18 663.10 279.75C663.93 280.32 664.27 280.36 665.00 280.30C665.73 280.24 666.25 280.49 667.50 279.40C668.75 278.31 670.42 276.36 672.50 273.75C674.58 271.14 677.58 266.88 680.00 263.75C682.42 260.62 684.72 257.43 687.00 255.00C689.28 252.57 691.48 250.82 693.70 249.20C695.92 247.58 697.38 246.28 700.30 245.30C703.22 244.32 709.38 243.63 711.20 243.30"/><path d="M612.83 313.67C614.64 313.67 620.75 313.86 623.67 313.67C626.58 313.47 628.11 313.11 630.33 312.50C632.56 311.89 634.78 311.11 637.00 310.00C639.22 308.89 641.44 307.50 643.67 305.83C645.89 304.17 648.11 302.22 650.33 300.00C652.56 297.78 655.06 294.44 657.00 292.50C658.94 290.56 660.61 289.08 662.00 288.33C663.39 287.58 664.22 287.58 665.33 288.00C666.44 288.42 667.28 288.97 668.67 290.83C670.06 292.69 671.72 295.69 673.67 299.17C675.61 302.64 678.11 307.92 680.33 311.67C682.56 315.42 685.06 319.33 687.00 321.67C688.94 324.00 690.06 324.78 692.00 325.67C693.94 326.56 695.47 326.75 698.67 327.00C701.86 327.25 709.08 327.14 711.17 327.17"/><path d="M612.83 314.67C614.08 314.78 618.53 315.00 620.33 315.33C622.14 315.67 622.00 315.47 623.67 316.67C625.33 317.86 628.11 320.00 630.33 322.50C632.56 325.00 634.78 328.33 637.00 331.67C639.22 335.00 641.72 339.44 643.67 342.50C645.61 345.56 647.00 348.19 648.67 350.00C650.33 351.81 652.00 352.78 653.67 353.33C655.33 353.89 656.72 353.75 658.67 353.33C660.61 352.92 662.83 351.94 665.33 350.83C667.83 349.72 670.89 347.78 673.67 346.67C676.44 345.56 679.50 344.50 682.00 344.17C684.50 343.83 686.44 344.11 688.67 344.67C690.89 345.22 693.11 346.56 695.33 347.50C697.56 348.44 699.36 349.56 702.00 350.33C704.64 351.11 709.64 351.86 711.17 352.17"/><path d="M612.83 353.33C614.08 353.19 617.42 353.06 620.33 352.50C623.25 351.94 627.00 350.92 630.33 350.00C633.67 349.08 637.00 347.97 640.33 347.00C643.67 346.03 647.00 345.00 650.33 344.17C653.67 343.33 657.00 342.56 660.33 342.00C663.67 341.44 667.28 340.97 670.33 340.83C673.39 340.69 675.89 340.81 678.67 341.17C681.44 341.53 684.22 342.08 687.00 343.00C689.78 343.92 692.56 345.36 695.33 346.67C698.11 347.97 701.03 349.92 703.67 350.83C706.31 351.75 709.92 351.94 711.17 352.17"/><path d="M612.83 365.83C614.64 365.89 620.19 366.22 623.67 366.17C627.14 366.11 630.61 365.89 633.67 365.50C636.72 365.11 639.64 364.19 642.00 363.83C644.36 363.47 646.17 363.14 647.83 363.33C649.50 363.53 650.47 363.75 652.00 365.00C653.53 366.25 655.33 368.89 657.00 370.83C658.67 372.78 660.06 374.58 662.00 376.67C663.94 378.75 666.17 381.25 668.67 383.33C671.17 385.42 673.94 387.36 677.00 389.17C680.06 390.97 683.67 392.64 687.00 394.17C690.33 395.69 693.94 397.28 697.00 398.33C700.06 399.39 702.97 400.03 705.33 400.50C707.69 400.97 710.19 401.06 711.17 401.17"/><path d="M612.83 388.83C613.81 389.03 616.58 389.25 618.67 390.00C620.75 390.75 623.11 391.94 625.33 393.33C627.56 394.72 629.78 396.67 632.00 398.33C634.22 400.00 636.44 401.53 638.67 403.33C640.89 405.14 643.11 407.44 645.33 409.17C647.56 410.89 649.78 412.56 652.00 413.67C654.22 414.78 656.44 415.47 658.67 415.83C660.89 416.19 662.83 416.19 665.33 415.83C667.83 415.47 670.89 414.64 673.67 413.67C676.44 412.69 679.22 411.31 682.00 410.00C684.78 408.69 687.56 407.08 690.33 405.83C693.11 404.58 696.17 403.25 698.67 402.50C701.17 401.75 703.25 401.56 705.33 401.33C707.42 401.11 710.19 401.19 711.17 401.17"/><path d="M612.83 418.67C613.81 418.56 616.58 418.47 618.67 418.00C620.75 417.53 622.83 416.83 625.33 415.83C627.83 414.83 630.89 413.11 633.67 412.00C636.44 410.89 639.64 409.83 642.00 409.17C644.36 408.50 645.89 408.08 647.83 408.00C649.78 407.92 651.86 408.06 653.67 408.67C655.47 409.28 657.00 410.33 658.67 411.67C660.33 413.00 662.00 414.58 663.67 416.67C665.33 418.75 667.00 420.97 668.67 424.17C670.33 427.36 672.00 431.67 673.67 435.83C675.33 440.00 677.00 444.44 678.67 449.17C680.33 453.89 682.00 459.17 683.67 464.17C685.33 469.17 687.28 475.14 688.67 479.17C690.06 483.19 690.33 483.19 692.00 488.33C693.67 493.47 696.58 502.78 698.67 510.00C700.75 517.22 702.64 524.94 704.50 531.67C706.36 538.39 708.94 547.22 709.83 550.33"/><path d="M612.85 454.70C614.04 454.68 617.08 454.62 620.00 454.60C622.92 454.58 626.93 454.25 630.40 454.60C633.87 454.95 637.32 455.57 640.80 456.70C644.27 457.83 647.77 459.07 651.25 461.40C654.73 463.73 658.23 466.88 661.70 470.70C665.18 474.52 668.63 479.35 672.10 484.30C675.57 489.25 679.28 495.28 682.50 500.40C685.72 505.52 689.27 511.45 691.40 515.00C693.53 518.55 693.25 517.95 695.30 521.70C697.35 525.45 701.25 532.73 703.70 537.50C706.15 542.27 708.95 548.17 710.00 550.30"/><path d="M612.85 464.70C614.04 464.63 617.42 464.68 620.00 464.30C622.58 463.92 625.52 462.88 628.30 462.40C631.08 461.92 634.08 461.32 636.70 461.40C639.32 461.48 641.58 461.95 644.00 462.90C646.42 463.85 648.65 465.02 651.25 467.10C653.85 469.18 656.83 472.10 659.60 475.40C662.38 478.70 665.12 482.90 667.90 486.90C670.67 490.90 673.12 494.72 676.25 499.40C679.38 504.08 683.24 509.70 686.70 515.00C690.16 520.30 694.03 526.65 697.00 531.20C699.97 535.75 702.33 539.12 704.50 542.30C706.67 545.48 709.08 548.97 710.00 550.30"/></g>
<path d="M120.90 549.85 H267.00" stroke="#0000ff" stroke-width="1.5" stroke-dasharray="1.2 1.56" fill="none"/>
<path d="M284.20 549.85 H546.00" stroke="#0000ff" stroke-width="1.5" stroke-dasharray="1.2 1.56" fill="none"/>
<path d="M563.20 549.85 H710.20" stroke="#0000ff" stroke-width="1.5" stroke-dasharray="1.2 1.56" fill="none"/>
<g clip-path="url(#c4)" fill="none" stroke-linejoin="round">
<path d="M727.00 213.33L727.67 216.67L729.00 223.33L728.00 228.33L727.67 233.33L728.00 250.00L727.67 260.00L728.50 276.67L730.17 290.00L729.33 293.33L731.00 303.33L731.83 311.67L736.00 318.33L741.00 324.17L748.50 328.00L740.17 330.33L751.00 331.67L761.83 332.50L752.67 333.33L750.17 336.67L746.83 340.00L749.33 342.50L762.67 345.00L776.83 346.33L771.00 349.17L754.33 352.50L739.33 355.83L738.50 358.33L754.33 360.00L779.33 363.00L804.33 365.00L826.00 366.33L804.33 367.50L779.33 369.17L759.33 370.83L745.17 374.17L745.17 374.17L745.17 380.00L748.50 385.83L754.33 388.67L760.17 390.00L761.83 395.00L765.17 397.50L761.83 399.17L760.17 400.83L766.83 402.50L766.00 405.83L761.00 407.00L764.33 408.67L754.33 411.67L744.33 415.00L734.33 417.50L729.33 419.17L728.50 436.67L728.50 470.00L728.50 470.00L728.50 486.67L727.67 503.33L727.00 520.00" stroke="#1f77b4" stroke-width="2.5"/>
<path d="M727.33 181.00L727.83 183.33L729.33 188.33L731.83 194.17L736.00 198.33L742.67 203.33L751.00 207.50L761.00 209.17L774.33 210.33L787.67 212.00L801.00 213.67L814.33 215.33L827.67 218.00L841.00 219.67L852.67 220.50L837.67 221.33L827.67 221.67L819.33 222.50L814.33 224.17L811.00 226.33L801.00 227.00L787.67 227.67L774.33 228.33L761.00 229.17L747.67 230.50L737.67 232.00L731.00 233.67L728.50 235.83L730.17 238.00L736.00 239.17L746.00 240.83L752.67 243.33L761.00 245.83L766.83 249.17L769.00 253.33L766.00 256.67L759.33 259.17L751.00 260.33L742.67 262.00L738.50 264.17L742.67 266.67L751.00 270.83L759.33 274.17L765.17 275.83L759.33 279.17L752.67 283.33L751.83 285.33L756.00 286.67L771.00 288.00L787.67 289.67L797.67 290.33L787.67 291.00L771.00 291.67L754.33 292.50L750.17 293.83L754.33 295.83L764.33 299.17L776.00 303.00L787.67 305.00L798.50 306.33L787.67 307.50L776.00 308.67L767.67 311.67L757.67 315.00L753.50 317.50L754.33 321.67L759.33 325.00L766.00 326.67L770.17 328.00L764.33 329.17L754.33 330.33L751.00 331.67L752.67 334.17L750.17 335.83L759.33 338.00L751.00 339.17L749.33 341.67L754.33 343.33L766.00 345.33L774.33 346.33L764.33 348.33L751.00 351.33L737.67 354.17L729.33 356.67L731.83 360.00L736.83 365.83L733.50 369.17L730.17 373.33L732.67 370.00L729.33 373.33L730.17 386.67L731.00 400.00L736.83 405.83L744.33 410.00L737.67 412.50L731.00 417.50L729.33 420.00L729.33 436.67L731.00 446.67L730.67 455.00L737.67 458.33L736.00 463.33L733.50 473.33L732.67 483.33L733.00 476.67L733.50 481.67L732.33 488.33L730.17 495.00L728.50 503.33L727.67 513.33L727.00 536.67" stroke="#ff7f0e" stroke-width="2.5"/>
<path d="M727.33 183.33L727.67 188.33L729.33 205.00L731.00 216.67L733.00 223.33L732.33 227.50L729.33 230.00L728.00 233.33L728.50 240.00L731.00 246.67L734.33 254.17L734.00 258.33L730.17 261.67L729.33 266.67L732.67 260.00L729.33 263.33L731.83 270.00L732.67 275.83L730.17 281.67L731.00 285.83L741.00 288.67L748.50 290.33L739.33 291.67L731.00 293.00L729.33 295.83L730.17 303.33L729.33 310.00L730.17 318.33L732.67 326.67L731.00 330.83L733.00 333.33L731.00 335.83L731.83 340.00L735.17 344.17L737.67 346.33L735.17 350.83L730.17 354.67L728.50 356.67L731.00 361.67L732.67 366.67L729.33 370.00L727.67 375.00L729.33 380.00L731.83 390.00L734.33 400.00L746.00 403.33L759.33 408.33L776.00 409.67L791.00 410.50L776.00 411.33L757.67 413.00L746.00 416.67L741.83 419.17L741.83 426.67L743.50 436.67L746.00 446.67L753.50 450.00L746.83 454.17L762.67 455.33L787.67 456.67L814.33 457.83L834.33 458.33L814.33 459.67L787.67 461.67L771.00 464.17L757.67 467.50L749.33 470.83L743.50 476.67L743.50 479.17L741.83 482.50L737.67 487.50L734.33 492.50L731.83 498.33L730.17 505.00L729.00 513.33L728.00 523.33L727.00 536.67" stroke="#2ca02c" stroke-width="2.5"/>
<path d="M727.33 180.67L728.00 183.33L730.17 189.17L733.50 193.67L739.33 198.33L746.00 202.50L754.33 206.67L764.33 208.33L777.67 209.67L791.00 211.33L804.33 212.83L817.67 214.50L831.00 216.67L844.33 218.33L857.67 220.00L844.33 220.83L831.00 221.67L822.67 223.33L817.67 225.83L811.00 227.00L801.00 227.33L787.67 227.83L774.33 228.50L761.00 229.33L747.67 230.67L737.67 232.17L731.00 233.83L728.50 235.83L730.17 238.00L736.00 238.83L746.00 240.00L754.33 242.50L764.33 245.33L774.33 249.17L777.67 254.17L772.67 257.50L762.67 259.17L751.00 260.83L742.67 263.33L746.00 266.67L754.33 269.17L742.67 265.00L754.33 270.00L771.00 276.33L757.67 284.17L761.00 286.33L787.67 288.33L821.00 290.50L787.67 292.00L754.33 294.17L779.33 300.00L807.67 306.67L787.67 308.33L762.67 316.67L774.33 323.33L797.67 328.33L771.00 330.83L795.17 332.50L776.00 334.67L787.67 337.50L775.17 341.67L796.00 343.33L834.33 346.67L796.00 350.83L762.67 354.17L739.33 357.50L771.00 361.67L804.33 364.67L841.00 366.67L804.33 368.33L771.00 370.00L754.33 373.33L748.50 375.00L748.50 376.67L751.83 382.50L759.33 386.67L769.33 390.83L778.50 398.33L772.67 400.83L787.67 402.50L802.67 405.83L804.33 408.33L829.33 410.00L850.17 410.50L821.00 411.67L787.67 413.33L762.67 415.83L748.50 418.33L746.00 425.00L746.83 436.67L750.17 443.33L759.33 450.00L753.50 452.50L771.00 455.00L804.33 456.67L847.67 458.67L812.67 460.83L787.67 463.33L771.00 466.67L756.00 470.83L752.67 474.17L751.00 479.17L747.67 484.17L741.83 490.00L736.83 495.83L733.50 501.67L731.00 508.33L729.33 516.67L728.50 526.67L727.00 536.67" stroke="#000" stroke-width="1.3" stroke-dasharray="1.2 1.6"/>
</g>
<rect x="120.00" y="157.70" width="147.00" height="411.75" fill="none" stroke="#000" stroke-width="2.00"/>
<rect x="283.30" y="157.70" width="262.70" height="411.75" fill="none" stroke="#000" stroke-width="2.00"/>
<rect x="562.30" y="157.70" width="147.90" height="411.75" fill="none" stroke="#000" stroke-width="2.00"/>
<rect x="726.70" y="157.70" width="136.90" height="411.75" fill="none" stroke="#000" stroke-width="2.00"/>
<g class="tx">
<text x="111.00" y="557.15" font-size="22.00" text-anchor="end" >0</text>
<text x="111.00" y="477.05" font-size="22.00" text-anchor="end" >2</text>
<text x="111.00" y="396.95" font-size="22.00" text-anchor="end" >4</text>
<text x="111.00" y="316.85" font-size="22.00" text-anchor="end" >6</text>
<text x="111.00" y="236.75" font-size="22.00" text-anchor="end" >8</text>
<text transform="translate(86.9 364) rotate(-90)" font-size="23.00" text-anchor="middle" textLength="166" lengthAdjust="spacingAndGlyphs">Frequency (THz)</text>
<text x="120.20" y="591.60" font-size="23.00" text-anchor="middle" textLength="11.6" lengthAdjust="spacingAndGlyphs">Γ</text>
<text x="165.90" y="591.60" font-size="23.00" text-anchor="middle" textLength="12.7" lengthAdjust="spacingAndGlyphs">T</text>
<text x="253.50" y="591.60" font-size="23.00" text-anchor="start" textLength="15.7" lengthAdjust="spacingAndGlyphs">H</text><text x="269.70" y="595.20" font-size="14.60" text-anchor="start" >2</text>
<text x="270.60" y="591.60" font-size="23.00" text-anchor="start" textLength="15.7" lengthAdjust="spacingAndGlyphs">H</text><text x="286.00" y="595.20" font-size="14.60" text-anchor="start" >0</text>
<text x="342.50" y="591.60" font-size="23.00" text-anchor="middle" textLength="11.6" lengthAdjust="spacingAndGlyphs">L</text>
<text x="436.30" y="591.60" font-size="23.00" text-anchor="middle" textLength="11.6" lengthAdjust="spacingAndGlyphs">Γ</text>
<text x="532.80" y="591.60" font-size="23.00" text-anchor="start" textLength="13.2" lengthAdjust="spacingAndGlyphs">S</text><text x="547.40" y="595.20" font-size="14.60" text-anchor="start" >0</text>
<text x="549.60" y="591.60" font-size="23.00" text-anchor="start" textLength="13.2" lengthAdjust="spacingAndGlyphs">S</text><text x="563.40" y="595.20" font-size="14.60" text-anchor="start" >2</text>
<text x="613.20" y="591.60" font-size="23.00" text-anchor="middle" textLength="11.3" lengthAdjust="spacingAndGlyphs">F</text>
<text x="710.40" y="591.60" font-size="23.00" text-anchor="middle" textLength="11.6" lengthAdjust="spacingAndGlyphs">Γ</text>
<text x="725.80" y="592.00" font-size="22.00" text-anchor="middle" >0</text>
<text x="863.00" y="592.00" font-size="22.00" text-anchor="middle" >5</text>
</g>
</svg></body></html>
